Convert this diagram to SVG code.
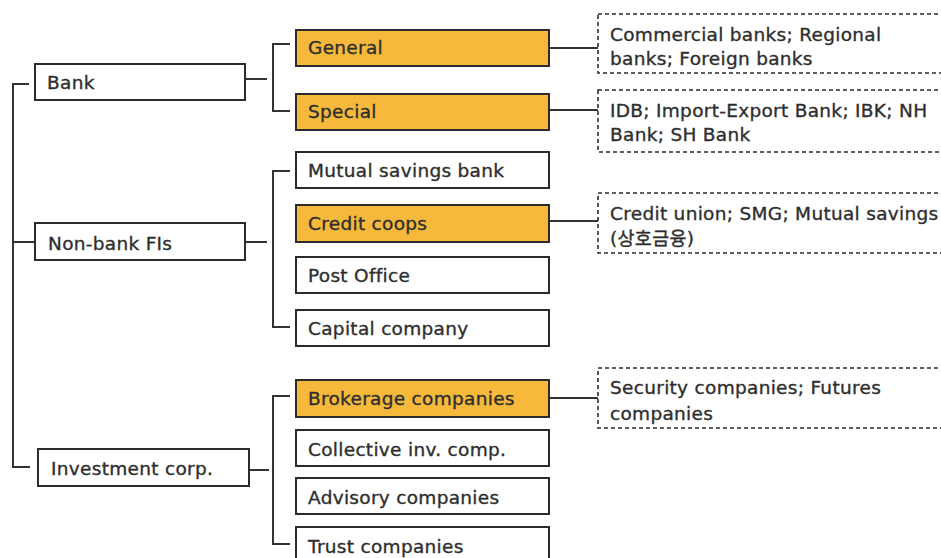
<svg xmlns="http://www.w3.org/2000/svg" width="941" height="558" viewBox="0 0 941 558">
  <style>
    .box { fill: #ffffff; stroke: #2b2b2b; stroke-width: 2; }
    .hl { fill: #f6b93b; stroke: #2b2b2b; stroke-width: 2; }
    .note { fill: #ffffff; stroke: #2b2b2b; stroke-width: 1.6; stroke-dasharray: 4 3; }
    .lbl { font-family: "DejaVu Sans", "Noto Sans CJK KR", sans-serif; font-size: 18.5px; letter-spacing: 0.3px; fill: #2e2e2e; stroke: #2e2e2e; stroke-width: 0.35; }
    .link { fill: none; stroke: #333333; stroke-width: 2; }
  </style>

  <rect width="941" height="558" fill="#ffffff"/>

  <!-- connectors -->
  <g id="connectors">
    <path class="link" d="M29 84 H13 V467 H30 M13 242 H35"/>
    <path class="link" d="M245 79 H267 M290 44 H273 V111 H290"/>
    <path class="link" d="M245 242 H267 M290 171 H273 V327 H290"/>
    <path class="link" d="M249 470 H269 M290 396 H273 V544 H290"/>
    <path class="link" d="M549 48 H598 M549 110 H598 M549 221 H598 M549 398 H598"/>
  </g>

  <!-- level 1 -->
  <g id="bank">
    <rect class="box" x="35" y="64" width="210" height="36"/>
    <text class="lbl" x="47" y="89">Bank</text>
  </g>
  <g id="nonbank">
    <rect class="box" x="35" y="223" width="210" height="37"/>
    <text class="lbl" x="48" y="250">Non-bank FIs</text>
  </g>
  <g id="investment">
    <rect class="box" x="38" y="449" width="211" height="37"/>
    <text class="lbl" x="51" y="475">Investment corp.</text>
  </g>

  <!-- level 2: banks -->
  <g id="general">
    <rect class="hl" x="296" y="30" width="253" height="36"/>
    <text class="lbl" x="308" y="54">General</text>
  </g>
  <g id="special">
    <rect class="hl" x="296" y="94" width="253" height="36"/>
    <text class="lbl" x="308" y="118">Special</text>
  </g>

  <!-- level 2: non-bank FIs -->
  <g id="mutual">
    <rect class="box" x="296" y="152" width="253" height="36"/>
    <text class="lbl" x="308" y="177">Mutual savings bank</text>
  </g>
  <g id="credit">
    <rect class="hl" x="296" y="205" width="253" height="37"/>
    <text class="lbl" x="308" y="230">Credit coops</text>
  </g>
  <g id="post">
    <rect class="box" x="296" y="257" width="253" height="36"/>
    <text class="lbl" x="308" y="282">Post Office</text>
  </g>
  <g id="capital">
    <rect class="box" x="296" y="310" width="253" height="36"/>
    <text class="lbl" x="308" y="335">Capital company</text>
  </g>

  <!-- level 2: investment corp. -->
  <g id="brokerage">
    <rect class="hl" x="296" y="380" width="253" height="37"/>
    <text class="lbl" x="308" y="405">Brokerage companies</text>
  </g>
  <g id="collective">
    <rect class="box" x="296" y="430" width="253" height="36"/>
    <text class="lbl" x="308" y="456">Collective inv. comp.</text>
  </g>
  <g id="advisory">
    <rect class="box" x="296" y="478" width="253" height="36"/>
    <text class="lbl" x="308" y="504">Advisory companies</text>
  </g>
  <g id="trust">
    <rect class="box" x="296" y="527" width="253" height="37"/>
    <text class="lbl" x="308" y="553">Trust companies</text>
  </g>

  <!-- detail notes -->
  <g id="note-general">
    <rect class="note" x="598" y="14" width="360" height="59"/>
    <text class="lbl" x="610" y="41">Commercial banks; Regional</text>
    <text class="lbl" x="610" y="65">banks; Foreign banks</text>
  </g>
  <g id="note-special">
    <rect class="note" x="598" y="90" width="360" height="62"/>
    <text class="lbl" x="610" y="117">IDB; Import-Export Bank; IBK; NH</text>
    <text class="lbl" x="610" y="141">Bank; SH Bank</text>
  </g>
  <g id="note-credit">
    <rect class="note" x="598" y="193" width="360" height="60"/>
    <text class="lbl" x="610" y="220">Credit union; SMG; Mutual savings</text>
    <text class="lbl" x="610" y="245">(상호금융)</text>
  </g>
  <g id="note-brokerage">
    <rect class="note" x="598" y="368" width="360" height="60"/>
    <text class="lbl" x="610" y="394">Security companies; Futures</text>
    <text class="lbl" x="610" y="420">companies</text>
  </g>
</svg>
